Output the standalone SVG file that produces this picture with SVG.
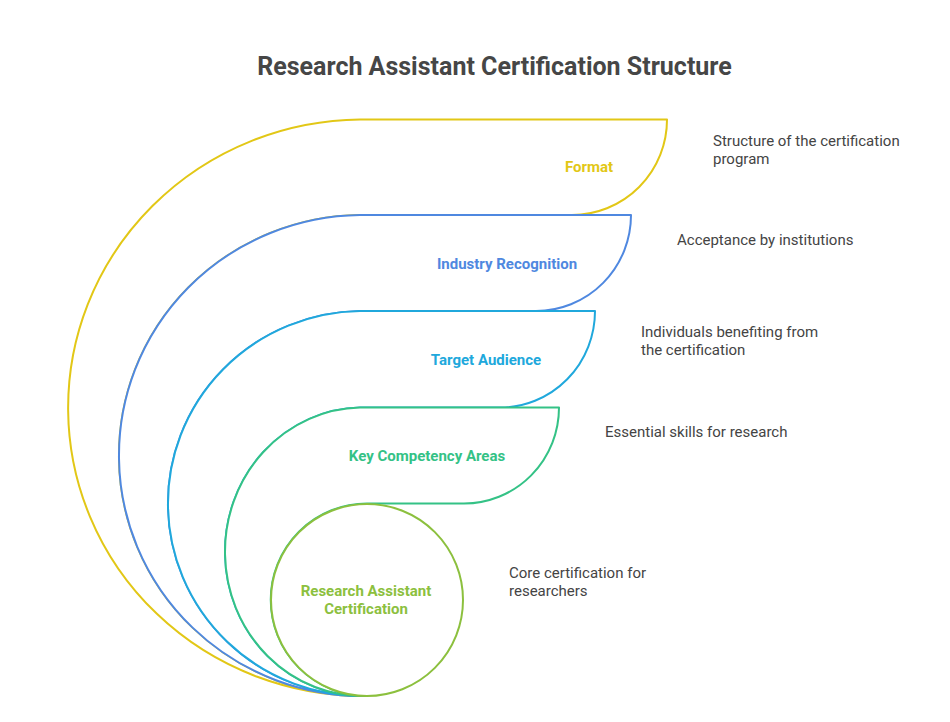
<svg xmlns="http://www.w3.org/2000/svg" width="950" height="722" viewBox="0 0 950 722">
<style>
.shape{fill:#ffffff;stroke-width:2;stroke-linejoin:round}
.lbl{font-family:Roboto,"Liberation Sans",sans-serif;font-weight:bold;font-size:15px;text-anchor:middle}
.desc{font-family:Roboto,"Liberation Sans",sans-serif;font-size:15px;fill:#444444}
.title{font-family:Roboto,"Liberation Sans",sans-serif;font-weight:bold;font-size:25px;fill:#464646;text-anchor:middle}
</style>
<rect width="950" height="722" fill="#ffffff"/>
<text class="title" x="494.5" y="75">Research Assistant Certification Structure</text>
<g id="format">
<path class="shape" stroke="#e2c716" d="M366 696 A295 288.25 0 0 1 360 119.5 H667 A95 95.5 0 0 1 572 215 H360 A244 240.5 0 0 0 366 696 Z"/>
<text class="lbl" fill="#e2c716" x="589" y="172">Format</text>
<text class="desc" x="713" y="146">Structure of the certification</text>
<text class="desc" x="713" y="164">program</text>
</g>
<g id="industry-recognition">
<path class="shape" stroke="#4f88e0" d="M366 696 A244 240.5 0 0 1 360 215 H631 A95 96 0 0 1 536 311 H360 A195 192.5 0 0 0 366 696 Z"/>
<text class="lbl" fill="#4f88e0" x="507" y="269">Industry Recognition</text>
<text class="desc" x="677" y="245">Acceptance by institutions</text>
</g>
<g id="target-audience">
<path class="shape" stroke="#20a8dc" d="M366 696 A195 192.5 0 0 1 360 311 H595 A95 96.5 0 0 1 500 407.5 H360 A138 144.25 0 0 0 366 696 Z"/>
<text class="lbl" fill="#20a8dc" x="486" y="365">Target Audience</text>
<text class="desc" x="641" y="337">Individuals benefiting from</text>
<text class="desc" x="641" y="355">the certification</text>
</g>
<g id="key-competency-areas">
<path class="shape" stroke="#34c286" d="M366 696 A138 144.25 0 0 1 360 407.5 H559 A95 96 0 0 1 464 503.5 H367 A96 96 0 0 0 367 696 Z"/>
<text class="lbl" fill="#34c286" x="427" y="461">Key Competency Areas</text>
<text class="desc" x="605" y="437">Essential skills for research</text>
</g>
<g id="research-assistant-certification">
<circle class="shape" stroke="#8cc03e" cx="367" cy="600" r="96"/>
<text class="lbl" fill="#8cc03e" x="366" y="596">Research Assistant</text>
<text class="lbl" fill="#8cc03e" x="366" y="614">Certification</text>
<text class="desc" x="509" y="578">Core certification for</text>
<text class="desc" x="509" y="596">researchers</text>
</g>
</svg>
